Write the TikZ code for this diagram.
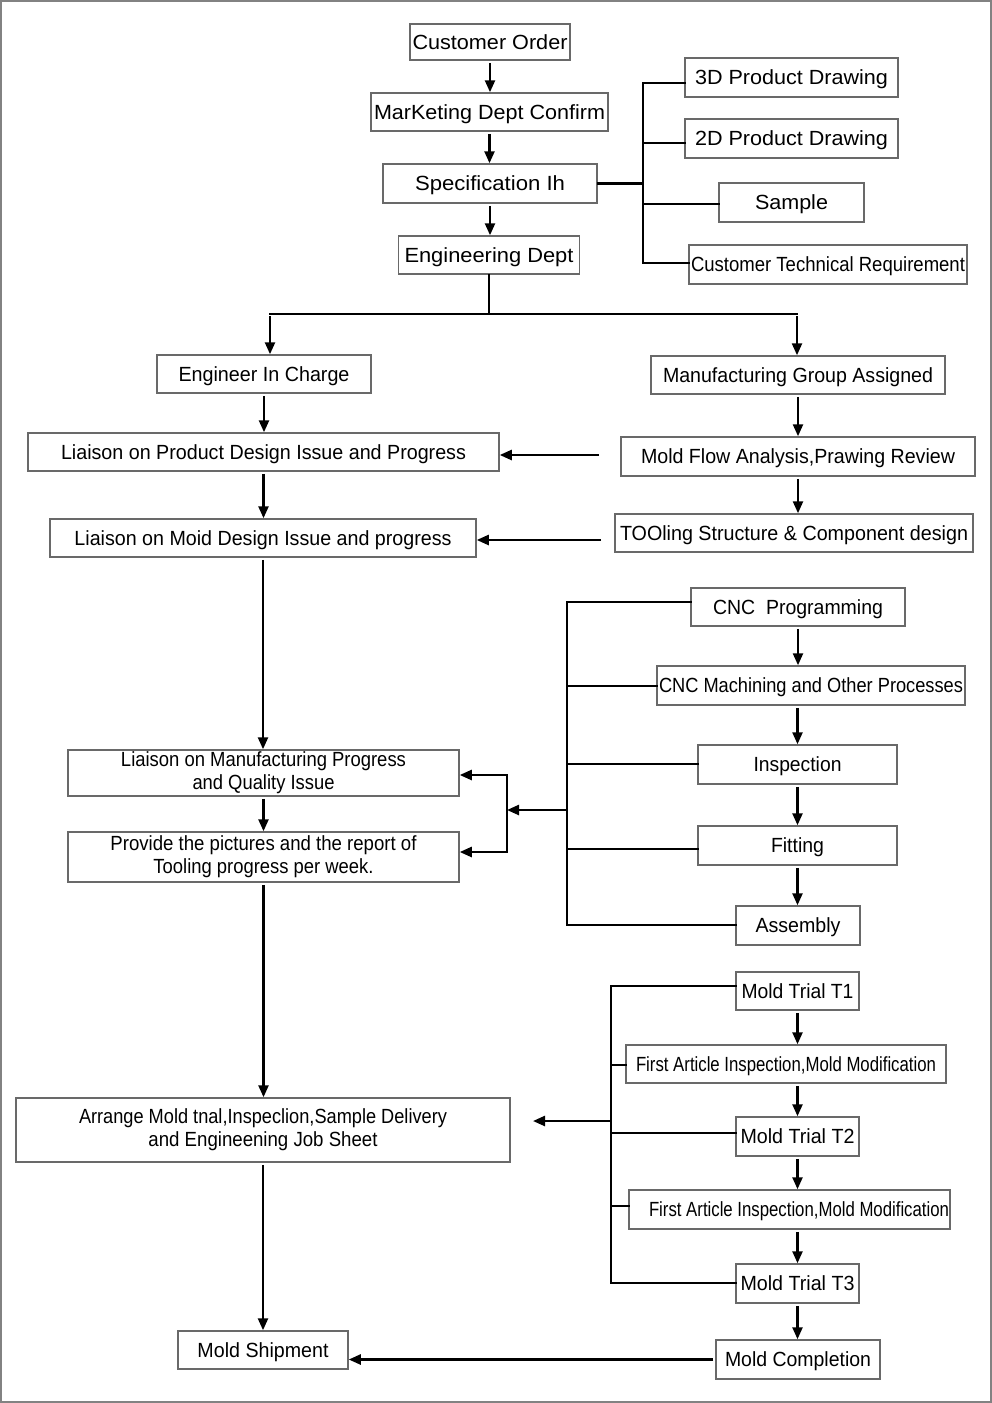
\documentclass[tikz,border=0pt]{standalone}
\usepackage{fontspec}
\setmainfont{Liberation Sans}
\usepackage{graphicx}
\usetikzlibrary{arrows.meta}
\newcommand{\fitw}[2]{\resizebox{#1pt}{\height}{#2}}
\definecolor{boxgray}{RGB}{105,105,105}
\definecolor{framegray}{RGB}{130,130,130}
\begin{document}
\begin{tikzpicture}[x=1pt,y=-1pt,
 bx/.style={draw=boxgray, line width=1.5pt, inner sep=0pt, text height=14.8pt, text depth=0pt, font=\fontsize{20.5}{23}\selectfont},
 bxtwo/.style={draw=boxgray, line width=1.5pt, inner sep=0pt, align=center, font=\fontsize{20.5}{23}\selectfont},
 ln/.style={line width=2.5pt, line cap=rect},
 arr/.style={line width=2.4pt, shorten <=2pt, -{Triangle[length=12pt,width=10pt]}}]
\useasboundingbox (0,0) rectangle (992,1403);
\draw[framegray, line width=2pt] (1,1) rectangle (991,1402);

% top column
\node[bx, minimum width=160, minimum height=36] (co) at (490,42) {\fitw{155}{Customer Order}};
\node[bx, minimum width=237, minimum height=38] (mk) at (489.5,112) {\fitw{231}{MarKeting Dept Confirm}};
\node[bx, minimum width=214, minimum height=39] (sp) at (490,183.5) {\fitw{150}{Specification Ih}};
\node[bx, minimum width=181, minimum height=38] (en) at (489,255) {\fitw{169}{Engineering Dept}};
\node[bx, minimum width=213, minimum height=39] (d3) at (791.5,77.5) {\fitw{193}{3D Product Drawing}};
\node[bx, minimum width=213, minimum height=39] (d2) at (791.5,138.5) {\fitw{193}{2D Product Drawing}};
\node[bx, minimum width=145, minimum height=39] (sa) at (791.5,202.5) {\fitw{73}{Sample}};
\node[bx, minimum width=278, minimum height=39] (ct) at (828,264.5) {\fitw{274}{Customer Technical Requirement}};

% second level
\node[bx, minimum width=214, minimum height=38] (ec) at (264,374) {\fitw{171}{Engineer In Charge}};
\node[bx, minimum width=294, minimum height=38] (mg) at (798,375) {\fitw{270}{Manufacturing Group Assigned}};
\node[bx, minimum width=471, minimum height=38] (lpd) at (263.5,452) {\fitw{405}{Liaison on Product Design Issue and Progress}};
\node[bx, minimum width=354, minimum height=39] (mf) at (798,456.5) {\fitw{314}{Mold Flow Analysis,Prawing Review}};
\node[bx, minimum width=426, minimum height=38] (lmd) at (263,538) {\fitw{377}{Liaison on Moid Design Issue and progress}};
\node[bx, minimum width=358, minimum height=38] (to) at (794,533) {\fitw{348}{TOOling Structure \& Component design}};

% left middle
\node[bxtwo, minimum width=391, minimum height=46] (lmf) at (263.5,773) {\fitw{285}{Liaison on Manufacturing Progress}\\\fitw{142}{and Quality Issue}};
\node[bxtwo, minimum width=391, minimum height=50] (pr) at (263.5,857) {\fitw{306}{Provide the pictures and the report of}\\\fitw{220}{Tooling progress per week.}};

% CNC column
\node[bx, minimum width=214, minimum height=38] (cp) at (798,607) {\fitw{170}{CNC~ Programming}};
\node[bx, minimum width=308, minimum height=39] (cm) at (811,685.5) {\fitw{304}{CNC Machining and Other Processes}};
\node[bx, minimum width=199, minimum height=39] (in) at (797.5,764.5) {\fitw{88}{Inspection}};
\node[bx, minimum width=199, minimum height=39] (fi) at (797.5,845.5) {\fitw{53}{Fitting}};
\node[bx, minimum width=124, minimum height=39] (as) at (798,925.5) {\fitw{85}{Assembly}};

% bottom left
\node[bxtwo, minimum width=494, minimum height=64] (ar) at (263,1130) {\fitw{368}{Arrange Mold tnal,Inspeclion,Sample Delivery}\\\fitw{229}{and Engineening Job Sheet}};
\node[bx, minimum width=170, minimum height=38] (ms) at (263,1350) {\fitw{131}{Mold Shipment}};

% trial column
\node[bx, minimum width=123, minimum height=38] (t1) at (797.5,991) {\fitw{112}{Mold Trial T1}};
\node[bx, minimum width=320, minimum height=38] (f1) at (786,1064) {\fitw{300}{First Article Inspection,Mold Modification}};
\node[bx, minimum width=123, minimum height=39] (t2) at (797.5,1136.5) {\fitw{114}{Mold Trial T2}};
\node[bx, minimum width=321, minimum height=39] (f2) at (789.5,1209.5) {\hspace*{19pt}\fitw{300}{First Article Inspection,Mold Modification}};
\node[bx, minimum width=123, minimum height=39] (t3) at (797.5,1283.5) {\fitw{114}{Mold Trial T3}};
\node[bx, minimum width=164, minimum height=39] (mc) at (798,1359.5) {\fitw{146}{Mold Completion}};

% top column arrows
\draw[arr] (co.south) -- (co.south |- mk.north);
\draw[arr] (mk.south) -- (mk.south |- sp.north);
\draw[arr] (sp.south) -- (sp.south |- en.north);

% spec bracket
\coordinate (b1t) at (643,83);
\coordinate (b1b) at (643,263);
\coordinate (b12) at (643,143);
\coordinate (b13) at (643,204);
\draw[ln] (sp.east) -- (sp.east -| b1t);
\draw[ln] (b1t) -- (b1b);
\draw[ln] (b1t) -- (b1t -| d3.west);
\draw[ln] (b12) -- (b12 -| d2.west);
\draw[ln] (b13) -- (b13 -| sa.west);
\draw[ln] (b1b) -- (b1b -| ct.west);

% split
\coordinate (s0) at (489,314);
\coordinate (sl) at (270,314);
\coordinate (sr) at (797,314);
\draw[ln] (en.south) -- (en.south |- s0);
\draw[ln] (sl) -- (sr);
\draw[arr] (sl) -- (sl |- ec.north);
\draw[arr] (sr) -- (sr |- mg.north);

% second level arrows
\draw[arr] (ec.south) -- (ec.south |- lpd.north);
\draw[arr] (lpd.south) -- (lpd.south |- lmd.north);
\draw[arr] (mg.south) -- (mg.south |- mf.north);
\draw[arr] (mf.south) -- (mf.south |- to.north);
\coordinate (mfl) at (601,455);
\coordinate (tol) at (603,540);
\draw[arr] (mfl) -- (mfl -| lpd.east);
\draw[arr] (tol) -- (tol -| lmd.east);

% left column arrows
\draw[arr] (lmd.south) -- (lmd.south |- lmf.north);
\draw[arr] (lmf.south) -- (lmf.south |- pr.north);
\draw[arr] (pr.south) -- (pr.south |- ar.north);
\draw[arr] (ar.south) -- (ar.south |- ms.north);

% CNC column arrows
\draw[arr] (cp.south) -- (cp.south |- cm.north);
\draw[arr] (in.north |- cm.south) -- (in.north);
\draw[arr] (in.south) -- (in.south |- fi.north);
\draw[arr] (fi.south) -- (fi.south |- as.north);

% CNC bracket
\coordinate (b2t) at (567,602);
\coordinate (b2b) at (567,925);
\coordinate (b22) at (567,686);
\coordinate (b23) at (567,764);
\coordinate (b24) at (567,849);
\coordinate (b2m) at (567,810);
\coordinate (v2m) at (507,810);
\coordinate (v2t) at (507,775);
\coordinate (v2b) at (507,852);
\draw[ln] (b2t) -- (b2b);
\draw[ln] (b2t) -- (b2t -| cp.west);
\draw[ln] (b22) -- (b22 -| cm.west);
\draw[ln] (b23) -- (b23 -| in.west);
\draw[ln] (b24) -- (b24 -| fi.west);
\draw[ln] (b2b) -- (b2b -| as.west);
\draw[arr, shorten <=0pt] (b2m) -- (v2m);
\draw[ln] (v2t) -- (v2b);
\draw[arr, shorten <=0pt] (v2t) -- (v2t -| lmf.east);
\draw[arr, shorten <=0pt] (v2b) -- (v2b -| pr.east);

% trial column arrows
\draw[arr] (t1.south) -- (t1.south |- f1.north);
\draw[arr] (t2.north |- f1.south) -- (t2.north);
\draw[arr] (t2.south) -- (t2.south |- f2.north);
\draw[arr] (t3.north |- f2.south) -- (t3.north);
\draw[arr] (t3.south) -- (t3.south |- mc.north);
\draw[arr] (mc.west) -- (mc.west -| ms.east);

% trial bracket
\coordinate (b3t) at (611,986);
\coordinate (b3b) at (611,1283);
\coordinate (b32) at (611,1065);
\coordinate (b33) at (611,1133);
\coordinate (b34) at (611,1206);
\coordinate (b3m) at (611,1121);
\coordinate (arw) at (533,1121);
\draw[ln] (b3t) -- (b3b);
\draw[ln] (b3t) -- (b3t -| t1.west);
\draw[ln] (b32) -- (b32 -| f1.west);
\draw[ln] (b33) -- (b33 -| t2.west);
\draw[ln] (b34) -- (b34 -| f2.west);
\draw[ln] (b3b) -- (b3b -| t3.west);
\draw[arr, shorten <=0pt] (b3m) -- (arw);
\end{tikzpicture}
\end{document}
